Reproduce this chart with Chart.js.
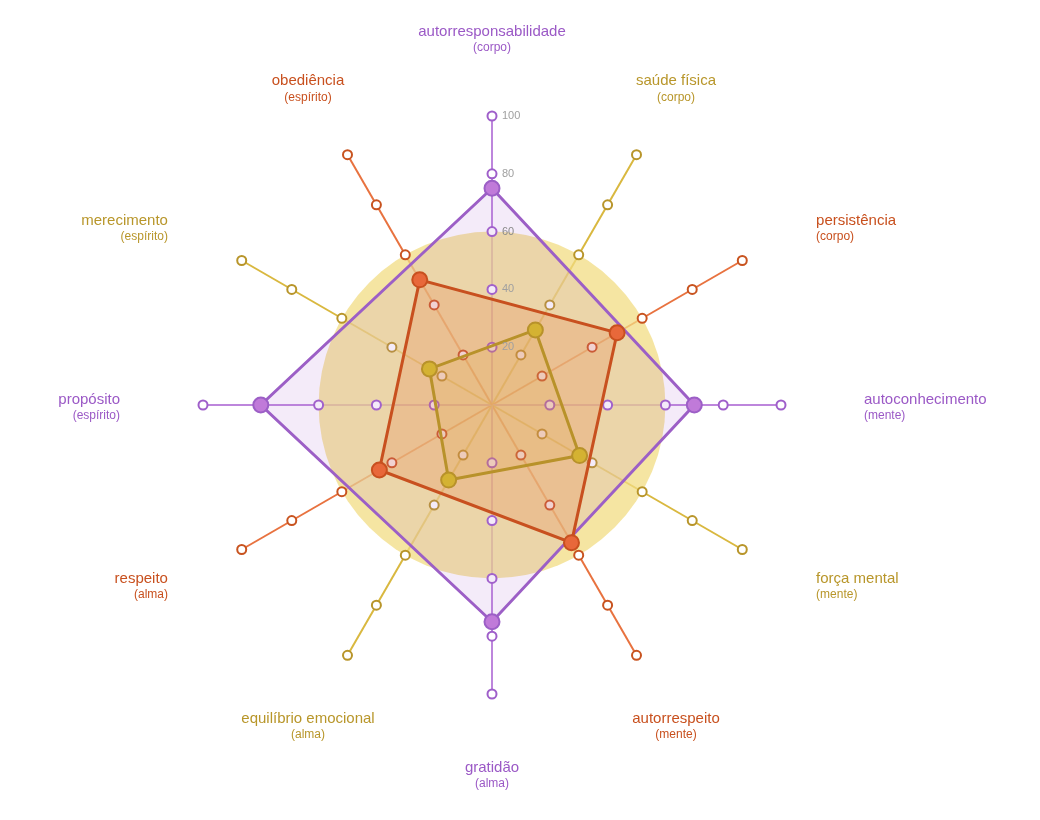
<!DOCTYPE html>
<html>
<head>
<meta charset="utf-8">
<script src="https://cdn.jsdelivr.net/npm/chart.js@4/dist/chart.umd.min.js"></script>
<style>
  html, body { margin: 0; padding: 0; background: #ffffff; }
  #wrap { width: 1040px; height: 820px; }
</style>
</head>
<body>
<div id="wrap"><canvas id="radar"></canvas></div>
<script>
// eixos (sentido horário a partir do topo)
const eixos = ['autorresponsabilidade', 'saúde física', 'persistência', 'autoconhecimento', 'força mental', 'autorrespeito',
               'gratidão', 'equilíbrio emocional', 'respeito', 'propósito', 'merecimento', 'obediência'];
const dimensoes = ['corpo', 'corpo', 'corpo', 'mente', 'mente', 'mente',
                   'alma', 'alma', 'alma', 'espírito', 'espírito', 'espírito'];
const grupoEixo = ['roxo', 'dourado', 'laranja', 'roxo', 'dourado', 'laranja',
                   'roxo', 'dourado', 'laranja', 'roxo', 'dourado', 'laranja'];

// valores por grupo (null = eixo de outro grupo)
const valoresRoxo    = [75, null, null, 70, null, null, 75, null, null, 80, null, null];
const valoresDourado = [null, 30, null, null, 35, null, null, 30, null, null, 25, null];
const valoresLaranja = [null, null, 50, null, null, 55, null, null, 45, null, null, 50];

const marcas = [20, 40, 60, 80, 100];
const valorAlvo = 60;

const cores = {
    roxo:    { linha: '#9c5fc6', ponto: '#c07ad9', raio: '#bd86dc', anel: '#9f5fca', texto: '#9b59c6', fundo: 'rgba(175,110,215,0.14)' },
    dourado: { linha: '#b8922a', ponto: '#d4b232', raio: '#d9b83f', anel: '#b8952a', texto: '#b8962a', fundo: 'rgba(215,170,60,0.15)' },
    laranja: { linha: '#c8501f', ponto: '#e8683a', raio: '#e8723f', anel: '#c8531f', texto: '#c8501e', fundo: 'rgba(232,110,55,0.2)' }
};

const FONTE = '"Liberation Sans", Arial, sans-serif';

// raios, disco alvo e anéis de cada eixo
const raiosPlugin = {
    id: 'raios',
    beforeDatasetsDraw(chart) {
        const s = chart.scales.r;
        const ctx = chart.ctx;
        ctx.save();
        // linhas dos eixos
        eixos.forEach((e, i) => {
            const c = cores[grupoEixo[i]];
            const fim = s.getPointPositionForValue(i, 100);
            ctx.beginPath();
            ctx.moveTo(s.xCenter, s.yCenter);
            ctx.lineTo(fim.x, fim.y);
            ctx.strokeStyle = c.raio;
            ctx.lineWidth = 2;
            ctx.stroke();
        });
        // disco do valor alvo
        ctx.beginPath();
        ctx.arc(s.xCenter, s.yCenter, s.getDistanceFromCenterForValue(valorAlvo), 0, Math.PI * 2);
        ctx.fillStyle = 'rgba(242,220,130,0.74)';
        ctx.fill();
        // anéis
        eixos.forEach((e, i) => {
            const c = cores[grupoEixo[i]];
            marcas.forEach(v => {
                const p = s.getPointPositionForValue(i, v);
                ctx.beginPath();
                ctx.arc(p.x, p.y, 4.5, 0, Math.PI * 2);
                ctx.fillStyle = '#ffffff';
                ctx.fill();
                ctx.strokeStyle = c.anel;
                ctx.lineWidth = 2;
                ctx.stroke();
            });
        });
        ctx.restore();
    },
    afterDatasetsDraw(chart) {
        const s = chart.scales.r;
        const ctx = chart.ctx;
        ctx.save();
        // rótulos das marcas
        ctx.font = '11px ' + FONTE;
        ctx.fillStyle = '#a0a0a0';
        ctx.textAlign = 'left';
        ctx.textBaseline = 'middle';
        marcas.forEach(v => {
            const p = s.getPointPositionForValue(0, v);
            ctx.fillStyle = v === valorAlvo ? '#8a8a8a' : '#a0a0a0';
            ctx.fillText(String(v), p.x + 10, p.y);
        });
        // rótulos dos eixos
        eixos.forEach((nome, i) => {
            const c = cores[grupoEixo[i]];
            let x, y, alinhar;
            if (i === 0 || i === 6 || i === 1 || i === 5 || i === 7 || i === 11) {
                const p = s.getPointPosition(i, 368);
                x = p.x; y = p.y + 3; alinhar = 'center';
            } else {
                const p = s.getPointPosition(i, 358);
                const dir = i < 6 ? 1 : -1;
                x = p.x + dir * 14; y = p.y + 3; alinhar = dir > 0 ? 'left' : 'right';
            }
            ctx.textAlign = alinhar;
            ctx.textBaseline = 'middle';
            ctx.fillStyle = c.texto;
            ctx.font = '15px ' + FONTE;
            ctx.fillText(nome, x, y - 8);
            ctx.font = '12px ' + FONTE;
            ctx.fillText('(' + dimensoes[i] + ')', x, y + 8);
        });
        ctx.restore();
    }
};

function serie(valores, c) {
    return {
        data: valores,
        spanGaps: true,
        fill: 'shape',
        backgroundColor: c.fundo,
        borderColor: c.linha,
        borderWidth: 3,
        pointRadius: 7.5,
        pointBorderWidth: 2,
        pointBackgroundColor: c.ponto,
        pointBorderColor: c.linha
    };
}

new Chart(document.getElementById('radar').getContext('2d'), {
    type: 'radar',
    data: {
        labels: eixos,
        datasets: [
            serie(valoresDourado, cores.dourado),
            serie(valoresLaranja, cores.laranja),
            serie(valoresRoxo, cores.roxo)
        ]
    },
    options: {
        responsive: true,
        maintainAspectRatio: false,
        animation: false,
        events: [],
        layout: { padding: { left: 200, right: 256, top: 116, bottom: 126 } },
        elements: { line: { tension: 0 } },
        scales: {
            r: {
                min: 0,
                max: 100,
                ticks: { display: false, stepSize: 20 },
                grid: { display: false },
                angleLines: { display: false },
                pointLabels: { display: false }
            }
        },
        plugins: {
            legend: { display: false },
            tooltip: { enabled: false }
        }
    },
    plugins: [raiosPlugin]
});
</script>
</body>
</html>
